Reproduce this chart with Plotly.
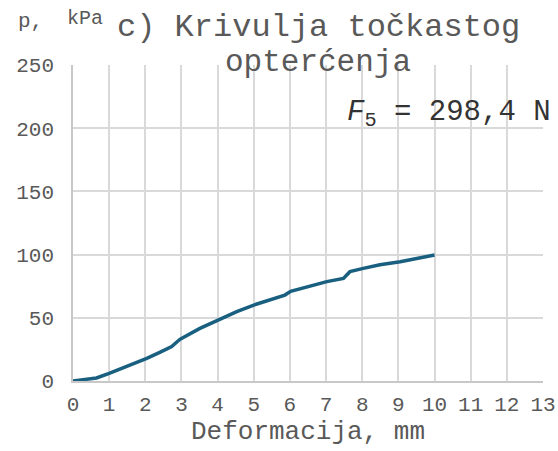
import plotly.graph_objects as go

deformation_mm = [0, 0.38, 0.65, 1.0, 1.48, 2.04, 2.4, 2.73, 2.95, 3.0, 3.51, 4.0, 4.53, 5.0, 5.45,
                  5.86, 6.02, 6.46, 7.02, 7.48, 7.66, 8.03, 8.49, 9.05, 9.51, 10.0]
pressure_kpa = [0, 1.3, 2.4, 6.0, 11.3, 17.9, 22.7, 27.2, 32.8, 33.7, 41.6, 48.3, 54.9, 60.1, 64.1,
                68.0, 70.9, 74.6, 78.6, 81.2, 86.5, 89.1, 91.9, 94.4, 97.0, 99.7]

x_ticks = list(range(0, 14))
y_ticks = [0, 50, 100, 150, 200, 250]

title_line1 = "c) Krivulja točkastog"
title_line2 = "opterćenja"
x_title = "Deformacija, mm"
y_title_a = "p,"
y_title_b = "kPa"
force_label = "<i>F</i><sub>5</sub> = 298,4 N"

FONT = "Liberation Mono, Courier New, monospace"
GRAY = "#595959"

fig = go.Figure()
fig.add_trace(go.Scatter(x=deformation_mm, y=pressure_kpa, mode="lines",
                         line=dict(color="#185f80", width=3.5), showlegend=False))

W, H = 558, 451
L, R, T, B = 73, 15, 65, 70
pw, ph = W - L - R, H - T - B

def px(x):
    return (x - L) / pw

def py(y):
    return (H - B - y) / ph

fig.update_layout(
    width=W, height=H,
    margin=dict(l=L, r=R, t=T, b=B),
    plot_bgcolor="white", paper_bgcolor="white",
    font=dict(family=FONT, color=GRAY),
    xaxis=dict(range=[0, 13], tickvals=x_ticks, ticktext=[str(v) for v in x_ticks],
               showgrid=True, gridcolor="#d9d9d9", gridwidth=1.5,
               showline=True, linecolor="#c8c8c8", linewidth=1.5,
               zeroline=False, tickfont=dict(size=21, color=GRAY), ticks="",
               ticklabelstandoff=3, automargin=False,
               title=dict(text=x_title, font=dict(size=26, color=GRAY), standoff=2)),
    yaxis=dict(range=[0, 250], tickvals=y_ticks, ticktext=[str(v) for v in y_ticks],
               showgrid=True, gridcolor="#d9d9d9", gridwidth=1.5,
               showline=True, linecolor="#c8c8c8", linewidth=1.5,
               zeroline=False, tickfont=dict(size=21, color=GRAY), ticks="",
               ticklabelstandoff=13, automargin=False),
    annotations=[
        dict(text=title_line1, xref="paper", yref="paper", x=px(318), y=py(27),
             xanchor="center", yanchor="middle", showarrow=False,
             font=dict(size=32, color=GRAY, family=FONT)),
        dict(text=title_line2, xref="paper", yref="paper", x=px(318), y=py(63),
             xanchor="center", yanchor="middle", showarrow=False,
             font=dict(size=31, color=GRAY, family=FONT)),
        dict(text=y_title_a, xref="paper", yref="paper", x=px(16), y=py(22),
             xanchor="left", yanchor="middle", showarrow=False,
             font=dict(size=21, color=GRAY, family=FONT)),
        dict(text=y_title_b, xref="paper", yref="paper", x=px(65), y=py(18),
             xanchor="left", yanchor="middle", showarrow=False,
             font=dict(size=20, color=GRAY, family=FONT)),
        dict(text=force_label, xref="paper", yref="paper", x=px(553), y=py(114),
             xanchor="right", yanchor="middle", showarrow=False,
             font=dict(size=29, color="#333333", family=FONT)),
    ],
)

fig.write_html("out.html", config={"displayModeBar": False},
               post_script="document.body.style.margin='0px';")
